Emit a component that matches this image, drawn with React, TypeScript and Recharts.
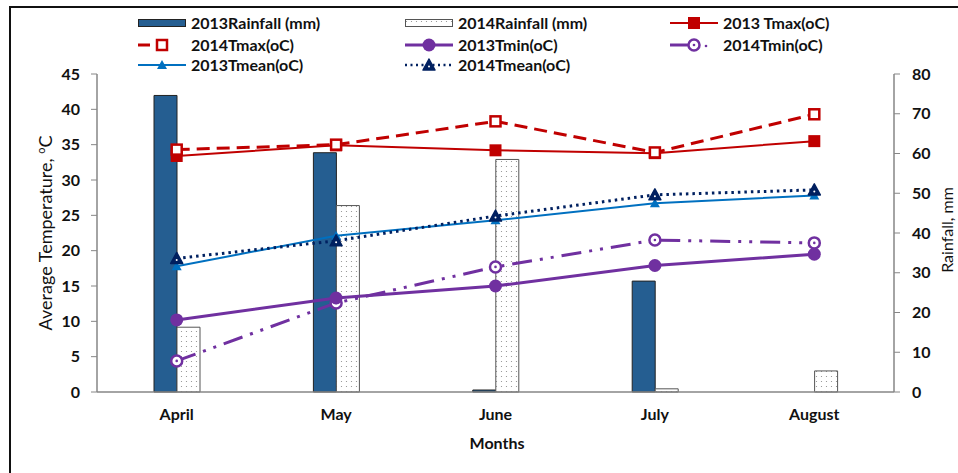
import {
  ComposedChart,
  Bar,
  Line,
  XAxis,
  YAxis,
} from "recharts";

const months = ["April", "May", "June", "July", "August"];
const rain2013 = [74.6, 60.2, 0.5, 27.9, 0];
const rain2014 = [16.3, 46.9, 58.5, 0.8, 5.3];
const tmax2013 = [33.4, 34.9, 34.2, 33.8, 35.5];
const tmax2014 = [34.3, 35.0, 38.3, 33.9, 39.3];
const tmin2013 = [10.2, 13.3, 15.0, 17.9, 19.5];
const tmin2014 = [4.4, 12.6, 17.7, 21.5, 21.1];
const tmean2013 = [17.8, 22.1, 24.3, 26.7, 27.8];
const tmean2014 = [18.9, 21.4, 24.9, 27.9, 28.6];
const tempTicks = [0, 5, 10, 15, 20, 25, 30, 35, 40, 45];
const rainTicks = [0, 10, 20, 30, 40, 50, 60, 70, 80];

const data = months.map((month, i) => ({
  month,
  rain2013: rain2013[i],
  rain2014: rain2014[i],
  tmax2013: tmax2013[i],
  tmax2014: tmax2014[i],
  tmin2013: tmin2013[i],
  tmin2014: tmin2014[i],
  tmean2013: tmean2013[i],
  tmean2014: tmean2014[i],
}));

const RED = "#C00000";
const PURPLE = "#7030A0";
const BLUE = "#0070C0";
const NAVY = "#002060";
const BAR_BLUE = "#255E91";
const AXIS = "#868686";
const FONT = "Lato, 'Open Sans', sans-serif";

type DotProps = { cx?: number; cy?: number; index?: number };

const filledSquare = (p: DotProps) => (
  <rect key={p.index} x={(p.cx ?? 0) - 6} y={(p.cy ?? 0) - 6} width={12} height={12} fill={RED} />
);
const openSquare = (p: DotProps) => (
  <rect key={p.index} x={(p.cx ?? 0) - 5} y={(p.cy ?? 0) - 5} width={10} height={10} fill="#fff" stroke={RED} strokeWidth={2.5} />
);
const filledCircle = (p: DotProps) => (
  <circle key={p.index} cx={p.cx} cy={p.cy} r={6.5} fill={PURPLE} />
);
const openCircle = (p: DotProps) => (
  <g key={p.index}>
    <circle cx={p.cx} cy={p.cy} r={5.5} fill="#fff" stroke={PURPLE} strokeWidth={2.5} />
    <circle cx={p.cx} cy={p.cy} r={1.3} fill={PURPLE} />
  </g>
);
const smallTriangle = (p: DotProps) => {
  const x = p.cx ?? 0;
  const y = p.cy ?? 0;
  return <path key={p.index} d={`M${x - 5},${y + 4} L${x + 5},${y + 4} L${x},${y - 5} Z`} fill={BLUE} />;
};
const navyTriangle = (p: DotProps) => {
  const x = p.cx ?? 0;
  const y = p.cy ?? 0;
  return (
    <g key={p.index}>
      <path d={`M${x - 6},${y + 5} L${x + 6},${y + 5} L${x},${y - 6} Z`} fill={NAVY} stroke={NAVY} strokeWidth={1.5} strokeLinejoin="round" />
      <circle cx={x} cy={y + 1.5} r={1} fill="#fff" />
    </g>
  );
};

type LegendItem = { label: string; col: number; row: number; icon: JSX.Element };

const cols = [138, 405, 670];
const rows = [23, 44.5, 65];

const lineIcon = (stroke: string, width: number, dash: string | undefined, marker: JSX.Element) => (
  <svg width={48} height={16}>
    <line x1={0} y1={8} x2={48} y2={8} stroke={stroke} strokeWidth={width} strokeDasharray={dash} />
    {marker}
  </svg>
);

const legendItems: LegendItem[] = [
  {
    label: "2013Rainfall (mm)", col: 0, row: 0,
    icon: <svg width={48} height={16}><rect x={0.5} y={4.5} width={47} height={7} fill={BAR_BLUE} stroke="#222" /></svg>,
  },
  {
    label: "2014Rainfall (mm)", col: 1, row: 0,
    icon: <svg width={48} height={16}><rect x={0.5} y={4.5} width={47} height={7} fill="url(#dots)" stroke="#555" /></svg>,
  },
  { label: "2013 Tmax(oC)", col: 2, row: 0, icon: lineIcon(RED, 2, undefined, filledSquare({ cx: 24, cy: 8 })) },
  {
    label: "2014Tmax(oC)", col: 0, row: 1,
    icon: (
      <svg width={48} height={16}>
        <line x1={0} y1={8} x2={12} y2={8} stroke={RED} strokeWidth={3} />
        <line x1={24} y1={8} x2={30} y2={8} stroke={RED} strokeWidth={3} />
        {openSquare({ cx: 24, cy: 8 })}
      </svg>
    ),
  },
  { label: "2013Tmin(oC)", col: 1, row: 1, icon: lineIcon(PURPLE, 3, undefined, filledCircle({ cx: 24, cy: 8 })) },
  {
    label: "2014Tmin(oC)", col: 2, row: 1,
    icon: (
      <svg width={48} height={16}>
        <line x1={0} y1={8} x2={22} y2={8} stroke={PURPLE} strokeWidth={3} />
        <circle cx={36} cy={9} r={1.3} fill={PURPLE} />
        {openCircle({ cx: 24, cy: 8 })}
      </svg>
    ),
  },
  { label: "2013Tmean(oC)", col: 0, row: 2, icon: lineIcon(BLUE, 2, undefined, smallTriangle({ cx: 24, cy: 8 })) },
  { label: "2014Tmean(oC)", col: 1, row: 2, icon: lineIcon(NAVY, 2.5, "2 3.5", navyTriangle({ cx: 24, cy: 8 })) },
];

export default function App() {
  return (
    <div
      style={{
        position: "fixed",
        left: 0,
        top: 0,
        width: 958,
        height: 473,
        overflow: "hidden",
        background: "#fff",
        fontFamily: FONT,
      }}
    >
      <svg width={0} height={0} style={{ position: "absolute" }}>
        <defs>
          <pattern id="dots" width={5} height={5} patternUnits="userSpaceOnUse">
            <rect width={5} height={5} fill="#fff" />
            <circle cx={1.5} cy={1.5} r={0.6} fill="#8a8a8a" />
          </pattern>
        </defs>
      </svg>

      <div
        style={{
          position: "absolute",
          left: 9,
          top: 6,
          width: 1000,
          height: 520,
          border: "2.5px solid #111",
          boxSizing: "border-box",
        }}
      />

      <div style={{ position: "absolute", left: 0, top: 0 }}>
        <ComposedChart
          width={958}
          height={473}
          data={data}
          margin={{ top: 74, right: 24, bottom: 41, left: 40 }}
          barGap={0}
          barSize={23}
        >
          <XAxis
            dataKey="month"
            height={40}
            axisLine={{ stroke: AXIS, strokeWidth: 1.5 }}
            tickLine={false}
            tickSize={0}
            tickMargin={17}
            tick={{ fill: "#111", fontSize: 16, fontWeight: 700, fontFamily: FONT }}
          />
          <YAxis
            yAxisId="left"
            orientation="left"
            width={57}
            domain={[0, 45]}
            ticks={tempTicks}
            interval={0}
            axisLine={{ stroke: AXIS, strokeWidth: 1.5 }}
            tickLine={{ stroke: AXIS }}
            tickSize={6}
            tickMargin={11}
            tick={{ fill: "#111", fontSize: 16, fontWeight: 700, fontFamily: FONT }}
          />
          <YAxis
            yAxisId="right"
            orientation="right"
            width={40}
            domain={[0, 80]}
            ticks={rainTicks}
            interval={0}
            axisLine={{ stroke: AXIS, strokeWidth: 1.5 }}
            tickLine={{ stroke: AXIS }}
            tickSize={6}
            tickMargin={12}
            tick={{ fill: "#111", fontSize: 16, fontWeight: 700, fontFamily: FONT }}
          />
          <Bar yAxisId="right" dataKey="rain2013" fill={BAR_BLUE} stroke="#222" strokeWidth={1} isAnimationActive={false} />
          <Bar yAxisId="right" dataKey="rain2014" fill="url(#dots)" stroke="#555" strokeWidth={1} isAnimationActive={false} />
          <Line yAxisId="left" dataKey="tmin2014" stroke={PURPLE} strokeWidth={3} strokeDasharray="20 8 3 8 3 8" dot={openCircle} activeDot={false} isAnimationActive={false} />
          <Line yAxisId="left" dataKey="tmin2013" stroke={PURPLE} strokeWidth={3} dot={filledCircle} activeDot={false} isAnimationActive={false} />
          <Line yAxisId="left" dataKey="tmean2013" stroke={BLUE} strokeWidth={2} dot={smallTriangle} activeDot={false} isAnimationActive={false} />
          <Line yAxisId="left" dataKey="tmean2014" stroke={NAVY} strokeWidth={3} strokeDasharray="2.5 4" dot={navyTriangle} activeDot={false} isAnimationActive={false} />
          <Line yAxisId="left" dataKey="tmax2013" stroke={RED} strokeWidth={2} dot={filledSquare} activeDot={false} isAnimationActive={false} />
          <Line yAxisId="left" dataKey="tmax2014" stroke={RED} strokeWidth={3} strokeDasharray="13 7" dot={openSquare} activeDot={false} isAnimationActive={false} />
        </ComposedChart>
      </div>

      {legendItems.map((it) => (
        <div
          key={it.label}
          style={{
            position: "absolute",
            left: cols[it.col],
            top: rows[it.row] - 9,
            height: 18,
            display: "flex",
            alignItems: "center",
            gap: 5,
            fontSize: 16,
            fontWeight: 700,
            color: "#111",
            whiteSpace: "nowrap",
            lineHeight: "18px",
          }}
        >
          {it.icon}
          <span>{it.label}</span>
        </div>
      ))}

      <div
        style={{
          position: "absolute",
          left: 45,
          top: 233,
          transform: "translate(-50%, -50%) rotate(-90deg)",
          fontSize: 18,
          color: "#111",
          whiteSpace: "nowrap",
        }}
      >
        Average Temperature, <sup style={{ fontSize: 11 }}>o</sup>C
      </div>
      <div
        style={{
          position: "absolute",
          left: 947,
          top: 230,
          transform: "translate(-50%, -50%) rotate(-90deg)",
          fontSize: 16,
          lineHeight: "18px",
          color: "#111",
          whiteSpace: "nowrap",
        }}
      >
        Rainfall, mm
      </div>
      <div
        style={{
          position: "absolute",
          left: 497,
          top: 442,
          transform: "translate(-50%, -50%)",
          fontSize: 16,
          fontWeight: 700,
          color: "#111",
          whiteSpace: "nowrap",
        }}
      >
        Months
      </div>
    </div>
  );
}
